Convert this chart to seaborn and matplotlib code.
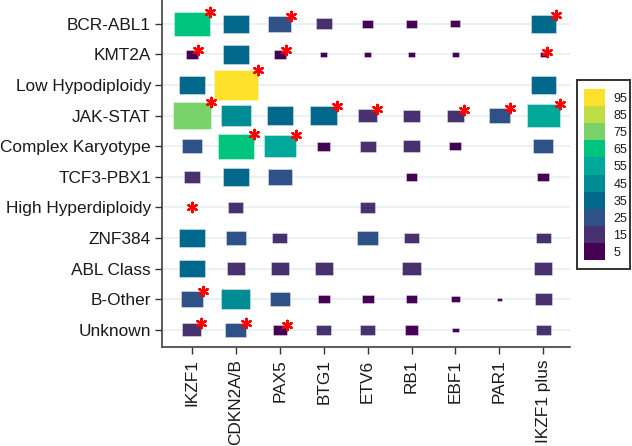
import numpy as np
import pandas as pd
import seaborn as sns
import matplotlib.pyplot as plt
from matplotlib.path import Path
from matplotlib.colors import ListedColormap

# groups (rows) and genes (columns)
groups = ["BCR-ABL1", "KMT2A", "Low Hypodiploidy", "JAK-STAT", "Complex Karyotype",
          "TCF3-PBX1", "High Hyperdiploidy", "ZNF384", "ABL Class", "B-Other", "Unknown"]
genes = ["IKZF1", "CDKN2A/B", "PAX5", "BTG1", "ETV6", "RB1", "EBF1", "PAR1", "IKZF1 plus"]

# frequency (%) per group / gene, None = no box
freq = [
    [62, 35, 26, 13, 6, 7, 5, None, 32],
    [7, 35, 7, 2.3, 2.3, 2.3, 2.3, None, 2.3],
    [32, 96, None, None, None, None, None, None, 32],
    [72, 44, 35, 37, 17, 15, 14, 23, 53],
    [21, 62, 51, 8, 13, 15, 7, None, 21],
    [14, 35, 28, None, None, 7, None, None, 7],
    [None, 11, None, None, 12, None, None, None, None],
    [32, 21, 11, None, 21, 11, None, None, 11],
    [32, 16, 17, 16, None, 17, None, None, 17],
    [25.8, 42, 20.5, 7, 7, 6, 4, 1, 15],
    [18, 22, 9, 11, 11, 9, 2, None, 11],
]

# significant cells (group, gene) marked with a red asterisk
significant = [
    ("BCR-ABL1", "IKZF1"), ("BCR-ABL1", "PAX5"), ("BCR-ABL1", "IKZF1 plus"),
    ("KMT2A", "IKZF1"), ("KMT2A", "PAX5"), ("KMT2A", "IKZF1 plus"),
    ("Low Hypodiploidy", "CDKN2A/B"),
    ("JAK-STAT", "IKZF1"), ("JAK-STAT", "BTG1"), ("JAK-STAT", "ETV6"),
    ("JAK-STAT", "EBF1"), ("JAK-STAT", "PAR1"), ("JAK-STAT", "IKZF1 plus"),
    ("Complex Karyotype", "CDKN2A/B"), ("Complex Karyotype", "PAX5"),
    ("High Hyperdiploidy", "IKZF1"),
    ("B-Other", "IKZF1"),
    ("Unknown", "IKZF1"), ("Unknown", "CDKN2A/B"), ("Unknown", "PAX5"),
]

# colour bins
bin_labels = [5, 15, 25, 35, 45, 55, 65, 75, 85, 95]
bin_colors = ["#440154", "#47316f", "#2e5187", "#00688b", "#008c93",
              "#00a899", "#00c47e", "#7ad26a", "#c0de43", "#fde12b"]

sns.set_style("white")
plt.rcParams["font.family"] = ["Liberation Sans", "DejaVu Sans"]

W, H = 632, 446
fig = plt.figure(figsize=(W / 100, H / 100), dpi=100)
ax = fig.add_axes([162 / W, 1 - 347 / H, (570 - 162) / W, 347 / H])
xlim = (-0.683, 8.61)
ylim = (10.56, -0.78)
ax.set_xlim(*xlim)
ax.set_ylim(*ylim)

# long table
recs = []
for i, g in enumerate(groups):
    for j, c in enumerate(genes):
        v = freq[i][j]
        if v is not None:
            recs.append({"x": j, "y": i, "value": v,
                         "bin": min(int(v // 10) * 10 + 5, 95)})
df = pd.DataFrame(recs)
vmax = df["value"].max()

# cell size in points -> rectangular marker that fills a cell at vmax
cell_w_px = (570 - 162) / (xlim[1] - xlim[0])
cell_h_px = 347 / (ylim[0] - ylim[1])
aspect = cell_h_px / cell_w_px
rect = Path([(-0.5, -0.5 * aspect), (0.5, -0.5 * aspect), (0.5, 0.5 * aspect),
             (-0.5, 0.5 * aspect), (-0.5, -0.5 * aspect)],
            [Path.MOVETO, Path.LINETO, Path.LINETO, Path.LINETO, Path.CLOSEPOLY])
s_max = (cell_w_px * 72 / 100) ** 2

ax.grid(axis="y", color="#e8f0f2", lw=1.3)
ax.grid(axis="x", visible=False)
ax.set_axisbelow(True)

sns.scatterplot(data=df, x="x", y="y", hue="bin",
                palette=dict(zip(bin_labels, bin_colors)),
                size="value", sizes=(0, s_max), size_norm=(0, vmax),
                marker=rect, edgecolor="#ffffff70", linewidth=0.6,
                legend=False, ax=ax, zorder=3)

# asterisks at the top-right corner of each box
ast_rows = []
for g, c in significant:
    i, j = groups.index(g), genes.index(c)
    v = freq[i][j] or 0
    f = np.sqrt(v / vmax)
    ast_rows.append({"x": j + f / 2, "y": i - f / 2})
sig = pd.DataFrame(ast_rows)
sns.scatterplot(data=sig, x="x", y="y", marker=(6, 2, 0), color="#ff0000",
                s=45, linewidth=1.7, ax=ax, zorder=4)

ax.set_xticks(range(len(genes)))
ax.set_xticklabels(genes, rotation=90)
ax.set_yticks(range(len(groups)))
ax.set_yticklabels(groups)
ax.set_xlabel("")
ax.set_ylabel("")
ax.set_xlim(*xlim)
ax.set_ylim(*ylim)
ax.tick_params(axis="both", direction="out", length=5, width=1.0, color="#333333",
               labelsize=12.4, labelcolor="#1a1a1a", left=True, bottom=True)
ax.tick_params(axis="y", pad=3)
ax.tick_params(axis="x", pad=4)
for side in ["top", "right"]:
    ax.spines[side].set_visible(False)
for side in ["left", "bottom"]:
    ax.spines[side].set_color("#404040")
    ax.spines[side].set_linewidth(1.2)

# legend box
frame = fig.add_axes([577 / W, 1 - 269 / H, 53 / W, 189 / H])
frame.set_xticks([])
frame.set_yticks([])
for sp in frame.spines.values():
    sp.set_color("#333333")
    sp.set_linewidth(1.4)
lax = fig.add_axes([584 / W, 1 - 260 / H, 21 / W, 171 / H])
sns.heatmap(np.array(bin_labels[::-1]).reshape(-1, 1), cmap=ListedColormap(bin_colors),
            vmin=0, vmax=100, cbar=False, ax=lax,
            xticklabels=False, yticklabels=[str(b) for b in bin_labels[::-1]])
lax.yaxis.tick_right()
lax.tick_params(axis="y", length=0, pad=6, labelsize=9, labelrotation=0,
                labelcolor="#1a1a1a")

fig.savefig("out.png", dpi=100)
